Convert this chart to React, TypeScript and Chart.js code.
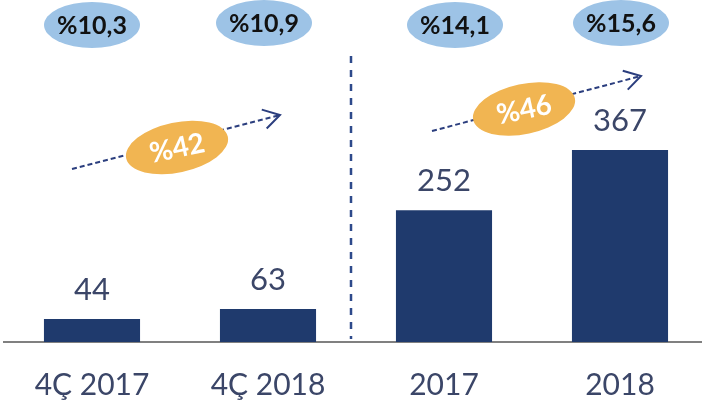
import React, { useEffect, useRef } from "react";
import { Chart, registerables } from "chart.js";

Chart.register(...registerables);

const categories = ["4Ç 2017", "4Ç 2018", "2017", "2018"];
const values = [44, 63, 252, 367];
const marginLabels = ["%10,3", "%10,9", "%14,1", "%15,6"];
const growthLabels = ["%42", "%46"];

const FONT = "Lato, 'DejaVu Sans', sans-serif";
const BAR = "#1F3A6D";
const TEXT = "#3B4668";
const BLUE = "#9DC3E6";
const ORANGE = "#F1B552";
const ARROW = "#2B3E7E";

const annotPlugin = {
  id: "annot",
  afterDatasetsDraw(chart: any) {
    const ctx: CanvasRenderingContext2D = chart.ctx;
    const meta = chart.getDatasetMeta(0);
    const xs = chart.scales.x;
    const area = chart.chartArea;
    ctx.save();

    // value labels
    ctx.fillStyle = TEXT;
    ctx.font = `31px ${FONT}`;
    ctx.textAlign = "center";
    ctx.textBaseline = "alphabetic";
    meta.data.forEach((bar: any, i: number) => {
      ctx.fillText(String(values[i]), bar.x, bar.y - 19);
    });

    // divider
    const divX = (xs.getPixelForValue(1) + xs.getPixelForValue(2)) / 2 - 5;
    ctx.strokeStyle = "#2E4A8B";
    ctx.lineWidth = 2.5;
    ctx.setLineDash([7, 7]);
    ctx.beginPath();
    ctx.moveTo(divX, 56);
    ctx.lineTo(divX, area.bottom - 3);
    ctx.stroke();
    ctx.setLineDash([]);

    // top margin ellipses
    const topOff = [0, -4, 11, 1];
    const topY = [25, 23, 25, 23];
    marginLabels.forEach((t, i) => {
      const cx = xs.getPixelForValue(i) + topOff[i];
      const cy = topY[i];
      ctx.fillStyle = BLUE;
      ctx.beginPath();
      ctx.ellipse(cx, cy, 48, 23, 0, 0, Math.PI * 2);
      ctx.fill();
      ctx.fillStyle = "#111111";
      ctx.font = `bold 25px ${FONT}`;
      ctx.textAlign = "center";
      ctx.textBaseline = "middle";
      ctx.fillText(t, cx, cy + 1);
    });

    // growth arrows
    const groups = [
      { sx: 72, sy: 169, ex: 280, ey: 115, cx: 177, cy: 147.5 },
      { sx: 432, sy: 131, ex: 641, ey: 76, cx: 524, cy: 109 },
    ];
    groups.forEach((g, i) => {
      ctx.strokeStyle = ARROW;
      ctx.lineWidth = 2;
      ctx.setLineDash([5, 3]);
      ctx.beginPath();
      ctx.moveTo(g.sx, g.sy);
      ctx.lineTo(g.ex, g.ey);
      ctx.stroke();
      ctx.setLineDash([]);
      const back = Math.atan2(g.sy - g.ey, g.sx - g.ex);
      const len = 19;
      const spread = (31 * Math.PI) / 180;
      ctx.beginPath();
      ctx.moveTo(g.ex + len * Math.cos(back - spread), g.ey + len * Math.sin(back - spread));
      ctx.lineTo(g.ex, g.ey);
      ctx.lineTo(g.ex + len * Math.cos(back + spread), g.ey + len * Math.sin(back + spread));
      ctx.stroke();

      const rot = (-12 * Math.PI) / 180;
      ctx.save();
      ctx.translate(g.cx, g.cy);
      ctx.rotate(rot);
      ctx.fillStyle = ORANGE;
      ctx.beginPath();
      ctx.ellipse(0, 0, 52, 25, 0, 0, Math.PI * 2);
      ctx.fill();
      ctx.fillStyle = "#FFFFFF";
      ctx.font = `bold 28px ${FONT}`;
      ctx.textAlign = "center";
      ctx.textBaseline = "middle";
      ctx.fillText(growthLabels[i], 0, 1);
      ctx.restore();
    });

    ctx.restore();
  },
};

export default function App() {
  const ref = useRef<HTMLCanvasElement>(null);
  useEffect(() => {
    document.body.style.margin = "0";
    document.body.style.overflow = "hidden";
    const chart = new Chart(ref.current!, {
      type: "bar",
      data: {
        labels: categories,
        datasets: [
          {
            data: values,
            backgroundColor: BAR,
            categoryPercentage: 1,
            barPercentage: 0.546,
          },
        ],
      },
      options: {
        animation: false,
        responsive: true,
        maintainAspectRatio: false,
        layout: { padding: { left: 4, right: 0, top: 0, bottom: 0 } },
        plugins: { legend: { display: false }, tooltip: { enabled: false } },
        scales: {
          x: {
            grid: { display: false, drawTicks: false },
            border: { display: true, color: "#808080", width: 2 },
            ticks: { padding: 25, color: TEXT, font: { family: FONT, size: 30 } },
            afterFit: (scale: any) => {
              scale.height = 61;
            },
          },
          y: { display: false, min: 0, max: 654 },
        },
      },
      plugins: [annotPlugin],
    });
    return () => chart.destroy();
  }, []);
  return (
    <div style={{ position: "fixed", left: 0, top: 0, width: 708, height: 403 }}>
      <canvas ref={ref} />
    </div>
  );
}
